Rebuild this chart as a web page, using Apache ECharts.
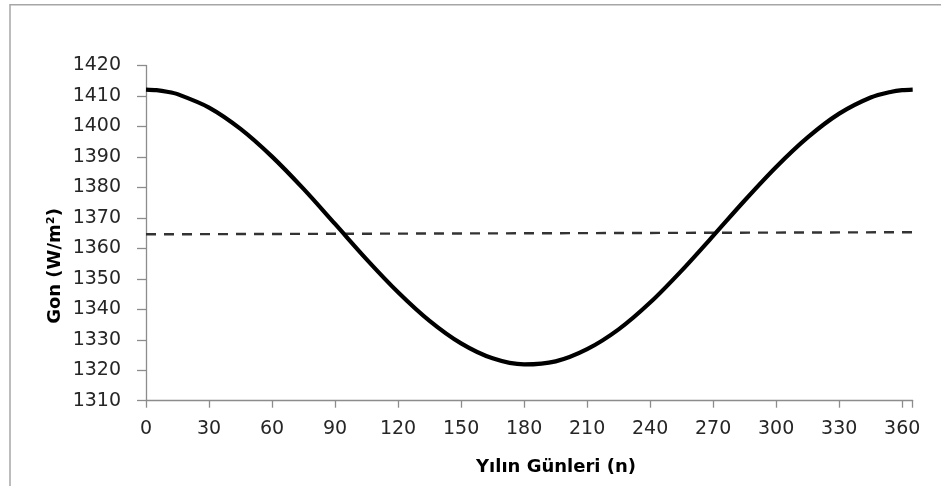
<!DOCTYPE html>
<html>
<head>
<meta charset="utf-8">
<script src="https://cdn.jsdelivr.net/npm/echarts@6/dist/echarts.min.js"></script>
<style>
html,body{margin:0;padding:0;background:#fff;}
#c{width:941px;height:486px;}
</style>
</head>
<body>
<div id="c"></div>
<script>
// Day of year (n)
var days = [0, 5, 10, 15, 30, 45, 60, 75, 90, 105, 120, 135, 150, 165, 180, 195, 210, 225, 240, 255, 270, 285, 300, 315, 330, 345, 355, 360, 365];
// Gon (W/m2)
var gon = [1412.1, 1411.9, 1411.4, 1410.6, 1406.2, 1399.2, 1390.1, 1379.5, 1368.0, 1356.4, 1345.6, 1336.2, 1328.8, 1323.9, 1321.9, 1322.9, 1326.9, 1333.4, 1342.2, 1352.7, 1364.1, 1375.7, 1386.7, 1396.4, 1404.2, 1409.5, 1411.4, 1411.9, 1412.1];
// Dashed reference line (start / end)
var refDays = [0, 368];
var refVals = [1364.6, 1365.3];
// Axis ticks
var xTicks = {min: 0, max: 365, interval: 30};
var yTicks = {min: 1310, max: 1420, interval: 10};
var xTitle = 'Yılın Günleri (n)';
var yTitle = 'Gon (W/m²)';

var chart = echarts.init(document.getElementById('c'), null, {renderer: 'canvas'});
var font = 'DejaVu Sans';
var option = {
  animation: false,
  backgroundColor: '#fff',
  grid: {left: 146, top: 65.5, right: 28.3, bottom: 85.3, containLabel: false},
  xAxis: {
    type: 'value', min: xTicks.min, max: xTicks.max, interval: xTicks.interval,
    axisLine: {show: true, onZero: false, lineStyle: {color: '#8c8c8c', width: 1.3}},
    axisTick: {show: true, length: 7, lineStyle: {color: '#8c8c8c', width: 1.3}},
    axisLabel: {
      margin: 19, color: '#262626', fontFamily: font, fontSize: 19,
      formatter: function (v) { return v > 360 ? '' : String(v); }
    },
    splitLine: {show: false}
  },
  yAxis: {
    type: 'value', min: yTicks.min, max: yTicks.max, interval: yTicks.interval,
    axisLine: {show: true, lineStyle: {color: '#8c8c8c', width: 1.3}},
    axisTick: {show: true, length: 9, lineStyle: {color: '#8c8c8c', width: 1.3}},
    axisLabel: {margin: 25, color: '#262626', fontFamily: font, fontSize: 19,
      formatter: function (v) { return String(v); }},
    splitLine: {show: false}
  },
  series: [
    {
      type: 'line', name: 'Gon',
      data: days.map(function (d, i) { return [d, gon[i]]; }),
      smooth: 0.3, showSymbol: false, symbol: 'none',
      lineStyle: {color: '#000', width: 4.2},
      z: 3
    },
    {
      type: 'line', name: 'ref',
      data: refDays.map(function (d, i) { return [d, refVals[i]]; }),
      showSymbol: false, symbol: 'none', clip: false,
      lineStyle: {color: '#333', width: 2.4, type: [10, 8]},
      z: 2
    }
  ],
  graphic: [
    {
      type: 'rect', silent: true,
      shape: {x: 10, y: 4.7, width: 1000, height: 600},
      style: {fill: 'none', stroke: '#a6a6a6', lineWidth: 1.5}
    },
    {
      type: 'text', silent: true,
      x: 556, y: 467,
      style: {text: xTitle, font: 'bold 18px "DejaVu Sans"', fill: '#000', align: 'center', verticalAlign: 'middle'}
    },
    {
      type: 'text', silent: true,
      x: 55, y: 266, rotation: Math.PI / 2,
      style: {text: yTitle, font: 'bold 18px "DejaVu Sans"', fill: '#000', align: 'center', verticalAlign: 'middle'}
    }
  ]
};
chart.setOption(option);
</script>
</body>
</html>
